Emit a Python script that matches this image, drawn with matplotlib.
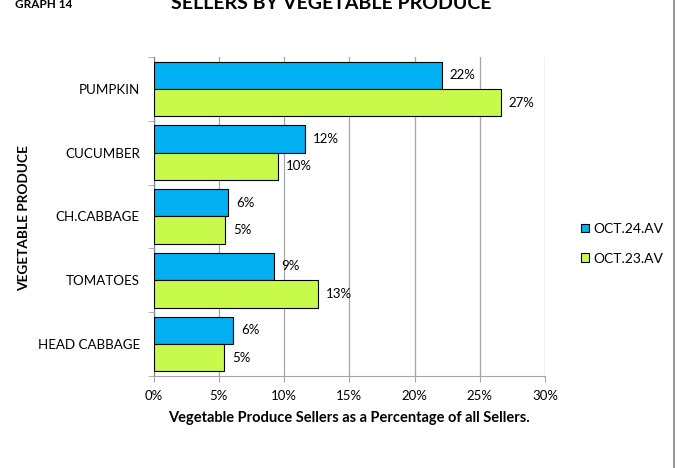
import numpy as np
import matplotlib
matplotlib.use('Agg')
import matplotlib.pyplot as plt

categories = ['PUMPKIN', 'CUCUMBER', 'CH.CABBAGE', 'TOMATOES', 'HEAD CABBAGE']
oct24 = [22.1, 11.6, 5.7, 9.2, 6.1]
oct23 = [26.6, 9.5, 5.5, 12.6, 5.4]
labels24 = ['22%', '12%', '6%', '9%', '6%']
labels23 = ['27%', '10%', '5%', '13%', '5%']
xticks = [0, 5, 10, 15, 20, 25, 30]

BLUE = '#00B0F0'
GREEN = '#C8FA4C'
GRID = '#A6A6A6'

plt.rcParams['font.family'] = ['Lato', 'DejaVu Sans']

fig = plt.figure(figsize=(6.77, 4.68), dpi=100)
ax = fig.add_axes([0.227, 0.197, 0.578, 0.681])

y = np.arange(len(categories))
h = 0.43
ax.barh(y - h / 2, oct24, height=h, color=BLUE, edgecolor='black',
        linewidth=0.8, label='OCT.24.AV', zorder=3)
ax.barh(y + h / 2, oct23, height=h, color=GREEN, edgecolor='black',
        linewidth=0.8, label='OCT.23.AV', zorder=3)

for yi, v, t in zip(y, oct24, labels24):
    ax.text(v + 0.6, yi - h / 2, t, va='center', ha='left', fontsize=9.5)
for yi, v, t in zip(y, oct23, labels23):
    ax.text(v + 0.6, yi + h / 2, t, va='center', ha='left', fontsize=9.5)

ax.set_xlim(0, 30)
ax.set_ylim(len(categories) - 0.5, -0.5)
ax.set_xticks(xticks)
ax.set_xticklabels([f'{t}%' for t in xticks], fontsize=9.5)
ax.set_yticks(y)
ax.set_yticklabels(categories, fontsize=9.6)
ax.set_yticks(np.arange(len(categories) + 1) - 0.5, minor=True)
ax.tick_params(axis='y', which='major', length=0, pad=10)
ax.tick_params(axis='y', which='minor', length=4, color=GRID)
ax.tick_params(axis='x', length=4, color=GRID, pad=6)

ax.grid(axis='x', color=GRID, linewidth=0.9, zorder=0)
for s in ['top', 'right']:
    ax.spines[s].set_visible(False)
ax.spines['left'].set_color('#808080')
ax.spines['bottom'].set_color(GRID)

ax.set_xlabel('Vegetable Produce Sellers as a Percentage of all Sellers.',
              fontsize=10.5, fontweight='bold', labelpad=7)
fig.text(0.035, 0.535, 'VEGETABLE PRODUCE', fontsize=9.8, fontweight='bold',
         rotation=90, ha='center', va='center')

fig.legend(loc='center left', bbox_to_anchor=(0.84, 0.479), frameon=False,
           fontsize=10, handlelength=0.55, handleheight=0.55, handletextpad=0.35,
           labelspacing=1.25)

fig.text(0.022, 0.99, 'GRAPH 14', fontsize=8.5, fontweight='bold', va='center')
fig.text(0.49, 0.993, 'SELLERS BY VEGETABLE PRODUCE', fontsize=14,
         fontweight='bold', ha='center', va='center')

fig.add_artist(plt.Line2D([0.996, 0.996], [0, 1], color='#808080',
                          linewidth=1.2, transform=fig.transFigure))

fig.savefig('out.png', dpi=100)
